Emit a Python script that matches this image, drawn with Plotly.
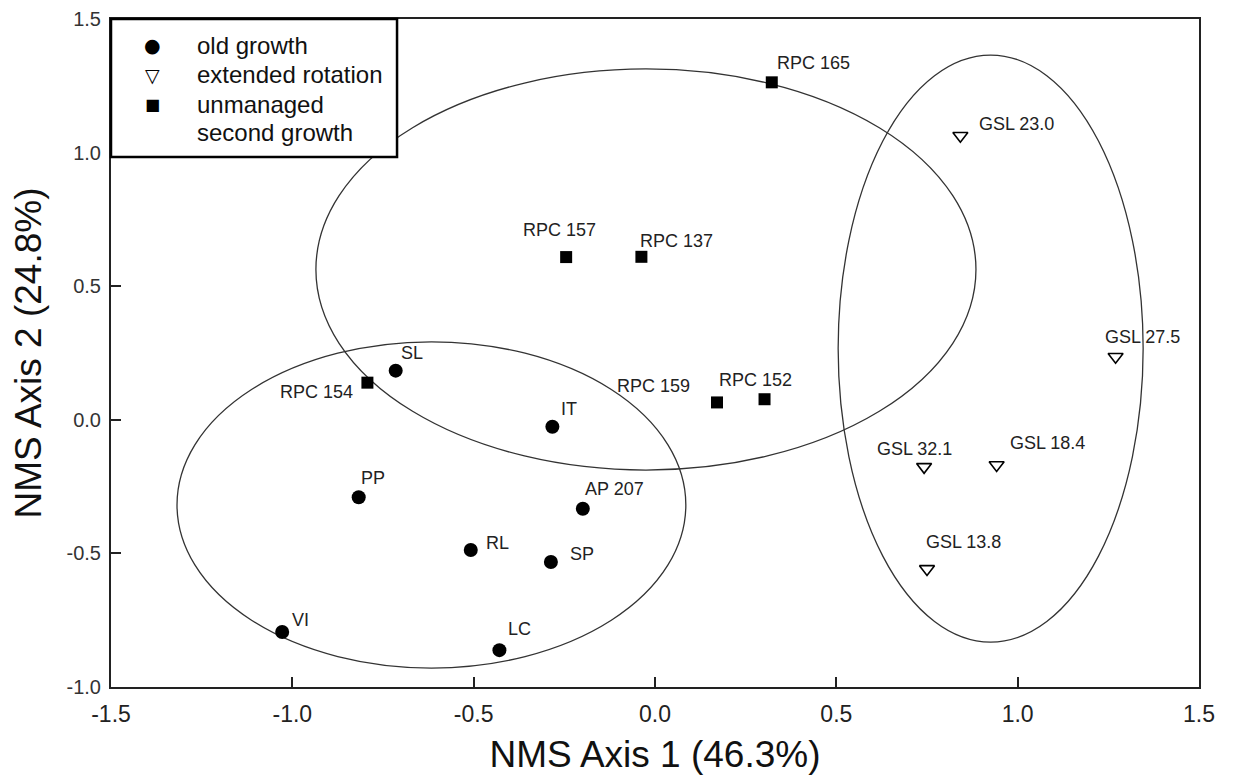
import plotly.graph_objects as go

# ---- data ----
og_names = ["VI", "LC", "RL", "SP", "AP 207", "PP", "IT", "SL"]
og_x = [-1.028, -0.429, -0.508, -0.287, -0.199, -0.817, -0.283, -0.715]
og_y = [-0.794, -0.862, -0.487, -0.532, -0.333, -0.290, -0.026, 0.184]

er_names = ["GSL 23.0", "GSL 27.5", "GSL 32.1", "GSL 18.4", "GSL 13.8"]
er_x = [0.842, 1.270, 0.742, 0.942, 0.750]
er_y = [1.063, 0.236, -0.176, -0.169, -0.558]

us_names = ["RPC 154", "RPC 157", "RPC 137", "RPC 165", "RPC 159", "RPC 152"]
us_x = [-0.793, -0.245, -0.0375, 0.322, 0.171, 0.302]
us_y = [0.139, 0.609, 0.610, 1.263, 0.065, 0.077]

# ellipses: x0, x1, y0, y1 (data units)
ell_x0 = [-1.318, -0.935, 0.505]
ell_x1 = [0.085, 0.885, 1.346]
ell_y0 = [-0.929, -0.188, -0.832]
ell_y1 = [0.292, 1.313, 1.365]

x_ticks = [-1.5, -1.0, -0.5, 0.0, 0.5, 1.0, 1.5]
y_ticks = [-1.0, -0.5, 0.0, 0.5, 1.0, 1.5]

legend_labels = ["old growth", "extended rotation", "unmanaged\nsecond growth"]
legend_glyphs = ["\u25CF", "\u25BD", "\u25A0"]

# ---- label offsets (pixels; style only) ----
og_off = [(18, 12), (20, 21), (27, 7), (31, 8), (32, 20), (14, 19), (17, 18), (16, 18)]
er_off = [(56, 12), (27, 20), (-10, 18), (51, 22), (36, 27)]
us_off = [(-51, -9), (-7, 27), (35, 16), (42, 19), (-64, 16), (-9, 19)]

FONT = "Liberation Sans, Arial, sans-serif"

fig = go.Figure()
fig.add_trace(go.Scatter(x=og_x, y=og_y, mode="markers", name="old growth",
                         marker=dict(symbol="circle", size=14, color="black")))
fig.add_trace(go.Scatter(x=er_x, y=er_y, mode="markers", name="extended rotation",
                         marker=dict(symbol="triangle-down-open", size=13, color="black",
                                     line=dict(width=1.6, color="black"))))
fig.add_trace(go.Scatter(x=us_x, y=us_y, mode="markers", name="unmanaged second growth",
                         marker=dict(symbol="square", size=12, color="black")))

for x0, x1, y0, y1 in zip(ell_x0, ell_x1, ell_y0, ell_y1):
    fig.add_shape(type="circle", xref="x", yref="y", x0=x0, x1=x1, y0=y0, y1=y1,
                  line=dict(color="#333333", width=1.3), layer="below")

annotations = []
for names, xs, ys, offs in [(og_names, og_x, og_y, og_off),
                            (er_names, er_x, er_y, er_off),
                            (us_names, us_x, us_y, us_off)]:
    for n, x, y, (dx, dy) in zip(names, xs, ys, offs):
        annotations.append(dict(x=x, y=y, text=n, showarrow=False, xshift=dx, yshift=dy,
                                font=dict(family=FONT, size=18, color="#222222")))

# ---- legend box (drawn in paper coordinates) ----
fig.add_shape(type="rect", xref="paper", yref="paper", x0=0.0, x1=0.2629, y0=0.7934, y1=1.0,
              line=dict(color="black", width=2.5), fillcolor="white", layer="above")
row_y = [0.961, 0.9162, 0.8713]
line_step = 0.0405
glyph_sizes = [19, 19, 16]
for lab, g, ry, gs in zip(legend_labels, legend_glyphs, row_y, glyph_sizes):
    annotations.append(dict(xref="paper", yref="paper", x=0.0377, y=ry, text=g, showarrow=False,
                            xanchor="center", yanchor="middle",
                            font=dict(family="DejaVu Sans", size=gs, color="black")))
    for k, part in enumerate(lab.split("\n")):
        annotations.append(dict(xref="paper", yref="paper", x=0.0772, y=ry - k * line_step,
                                text=part, showarrow=False, xanchor="left", yanchor="middle",
                                font=dict(family=FONT, size=24, color="#111111")))

fig.update_layout(
    width=1225, height=774,
    margin=dict(l=103, r=34, t=11, b=95),
    paper_bgcolor="white", plot_bgcolor="white",
    font=dict(family=FONT, color="#222222"),
    annotations=annotations,
    showlegend=False,
    xaxis=dict(range=[-1.5, 1.5], tickvals=x_ticks, ticktext=[f"{v:.1f}" for v in x_ticks],
               automargin=False,
               showgrid=False, zeroline=False, showline=True, linecolor="#222222", linewidth=2,
               mirror=True, ticks="inside", ticklen=10, tickwidth=2, tickcolor="#222222",
               tickfont=dict(family=FONT, size=23, color="#222222"), ticklabelstandoff=5,
               title=dict(text="NMS Axis 1 (46.3%)", font=dict(family=FONT, size=37, color="#111111"),
                          standoff=16)),
    yaxis=dict(range=[-1.0, 1.5], tickvals=y_ticks, ticktext=[f"{v:.1f}" for v in y_ticks],
               automargin=False,
               showgrid=False, zeroline=False, showline=True, linecolor="#222222", linewidth=2,
               mirror=True, ticks="inside", ticklen=10, tickwidth=2, tickcolor="#222222",
               tickfont=dict(family=FONT, size=20, color="#333333"), ticklabelstandoff=4,
               title=dict(text="NMS Axis 2 (24.8%)", font=dict(family=FONT, size=37, color="#111111"),
                          standoff=18)),
)

fig.write_html("out.html")
